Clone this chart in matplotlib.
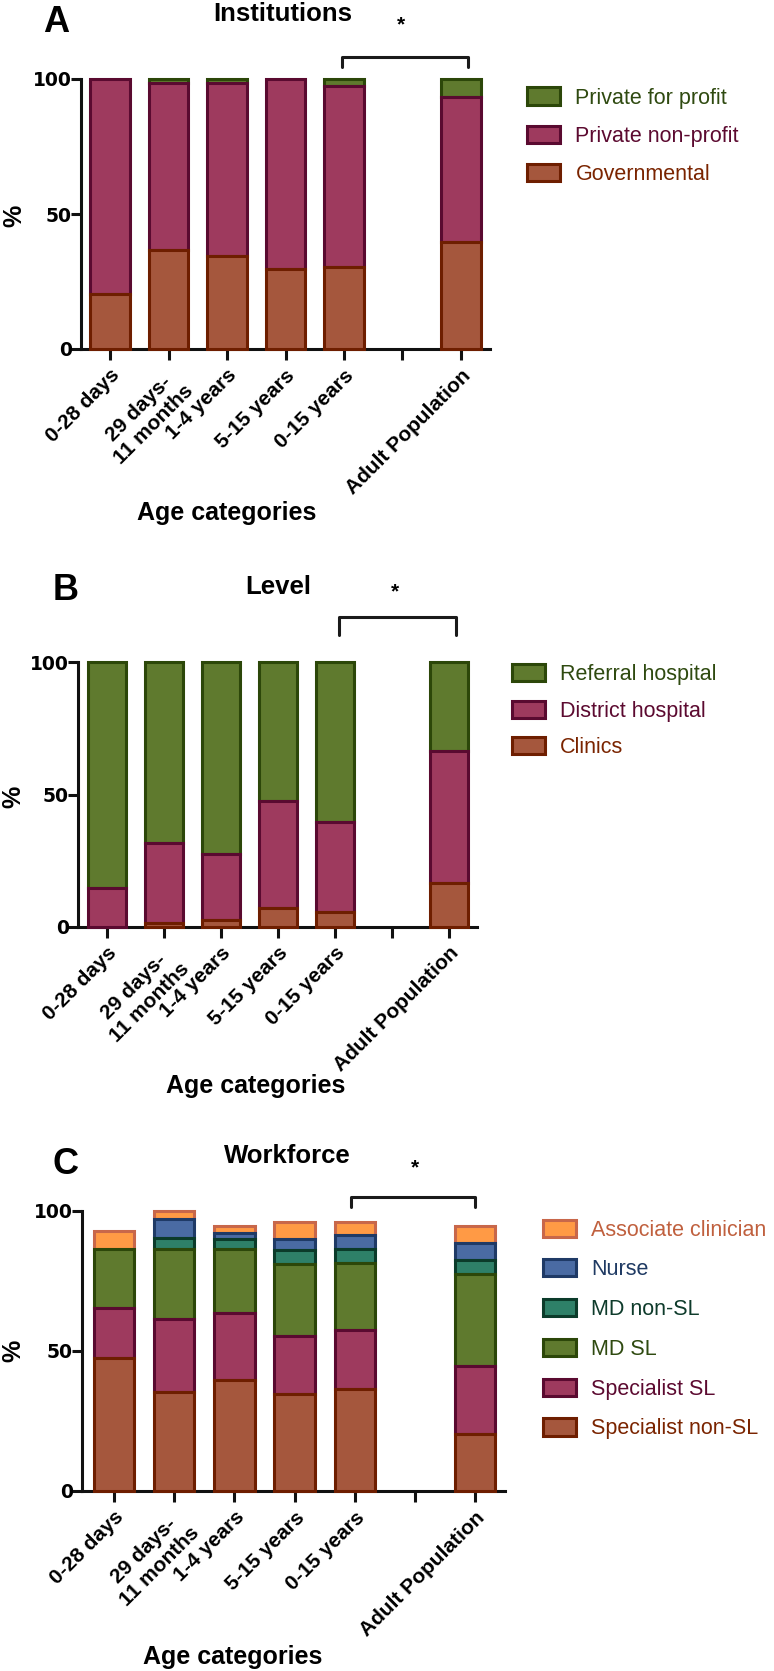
import numpy as np
import matplotlib
matplotlib.use("Agg")
import matplotlib.pyplot as plt

plt.rcParams['font.family'] = ['Liberation Sans', 'DejaVu Sans']

# ---------------- data ----------------
categories = ["0-28 days", "29 days-\n11 months", "1-4 years", "5-15 years",
              "0-15 years", "", "Adult Population"]
positions = [0, 1, 2, 3, 4, 6]   # slot 5 is an empty category

# Panel A: Institutions
inst_labels = ["Governmental", "Private non-profit", "Private for profit"]
governmental = [20.5, 36.5, 34.5, 29.5, 30.5, 39.5]
private_nonprofit = [79.5, 62.0, 64.0, 70.5, 67.0, 54.0]
private_profit = [0.0, 1.5, 1.5, 0.0, 2.5, 6.5]

# Panel B: Level
level_labels = ["Clinics", "District hospital", "Referral hospital"]
clinics = [0.0, 1.5, 2.5, 7.0, 5.5, 16.5]
district = [14.5, 30.0, 25.0, 40.5, 34.0, 50.0]
referral = [85.5, 68.5, 72.5, 52.5, 60.5, 33.5]

# Panel C: Workforce
work_labels = ["Specialist non-SL", "Specialist SL", "MD SL", "MD non-SL",
               "Nurse", "Associate clinician"]
spec_nonsl = [47.5, 35.5, 39.5, 34.5, 36.5, 20.5]
spec_sl = [18.0, 26.0, 24.0, 21.0, 21.0, 24.0]
md_sl = [21.0, 25.0, 23.0, 25.5, 24.0, 33.0]
md_nonsl = [0.0, 4.0, 3.5, 5.0, 5.0, 5.0]
nurse = [0.0, 6.5, 2.0, 4.0, 5.0, 6.0]
assoc = [6.5, 3.0, 2.5, 6.0, 4.5, 6.0]

# ---------------- styles ----------------
BROWN = ("#A5573D", "#6E1E00", "#7A2400")
MAROON = ("#9E3A5E", "#5A0A30", "#5C0A30")
GREEN = ("#5F7A2E", "#2C4709", "#2F4A10")
TEAL = ("#2E8068", "#0B3B2A", "#0E3B2B")
BLUE = ("#4A6BA3", "#1F3A66", "#1F3A63")
ORANGE = ("#FF9A45", "#C8674A", "#C0603E")

W, H = 774, 1671
fig = plt.figure(figsize=(W / 100, H / 100), dpi=100)


def fx(px):
    return px / W


def fy(py):
    return 1 - py / H


def make_axes(left, right, top, bottom):
    return fig.add_axes([fx(left), fy(bottom), fx(right) - fx(left), fy(top) - fy(bottom)])


def draw_panel(ax, series, labels, styles, xlim, legend_xy, labelspacing):
    n = len(series)
    bottoms = np.zeros(len(positions))
    handles = []
    for i, (vals, lab, st) in enumerate(zip(series, labels, styles)):
        vals = np.asarray(vals, dtype=float)
        mask = vals > 0
        pos = np.asarray(positions)[mask]
        bars = ax.bar(pos, vals[mask], bottom=bottoms[mask], width=0.67,
                      color=st[0], edgecolor=st[1], linewidth=2.2,
                      zorder=10 + n - i, clip_on=False, label=lab)
        handles.append(bars)
        bottoms = bottoms + vals
    ax.set_xlim(*xlim)
    ax.set_ylim(0, 100)
    ax.set_yticks([0, 50, 100])
    ax.set_yticklabels(["0", "50", "100"], fontsize=13.5, fontweight='bold',
                       family='DejaVu Sans')
    ax.set_xticks(range(len(categories)))
    ax.set_xticklabels(categories, rotation=45, ha='right', rotation_mode='anchor',
                       fontsize=15, fontweight='bold', multialignment='center')
    for sp in ['top', 'right']:
        ax.spines[sp].set_visible(False)
    for sp in ['left', 'bottom']:
        ax.spines[sp].set_linewidth(2.2)
        ax.spines[sp].set_color('#111111')
    ax.tick_params(axis='y', length=7, width=2.2, pad=-0.5, color='#111111')
    ax.tick_params(axis='x', length=8, width=2.2, pad=4, color='#111111')
    h = handles[::-1]
    l = labels[::-1]
    tc = [s[2] for s in styles][::-1]
    ax.legend(h, l, loc='upper left', bbox_to_anchor=(fx(legend_xy[0]), fy(legend_xy[1])),
              bbox_transform=fig.transFigure, frameon=False, borderpad=0,
              borderaxespad=0, handlelength=1.55, handleheight=0.85,
              handletextpad=0.7, labelspacing=labelspacing, fontsize=15.5,
              labelcolor=tc)


def bracket(ax, x0, x1, ylo, yhi, xs, ys):
    ax.plot([x0, x0, x1, x1], [ylo, yhi, yhi, ylo], color='#1a1a1a', lw=2.2,
            clip_on=False, solid_capstyle='round', zorder=20)
    ax.text(xs, ys, "*", ha='center', va='center', fontsize=15, fontweight='bold',
            clip_on=False)


# Panel A
axA = make_axes(81, 490, 79, 349)
draw_panel(axA, [governmental, private_nonprofit, private_profit], inst_labels,
           [BROWN, MAROON, GREEN], (-0.496, 6.496), (527, 87.5), 0.79)
bracket(axA, 3.97, 6.12, 104.5, 108, 4.98, 120)
fig.text(fx(283), fy(14), "Institutions", ha='center', va='center', fontsize=18.5,
         fontweight='bold')
fig.text(fx(56), fy(22), "A", ha='center', va='center', fontsize=26, fontweight='bold')
fig.text(fx(14), fy(216), "%", ha='center', va='center', fontsize=18,
         fontweight='bold', rotation=90)
fig.text(fx(227), fy(513), "Age categories", ha='center', va='center', fontsize=18,
         fontweight='bold')

# Panel B
axB = make_axes(77.7, 476.7, 662.3, 926.7)
draw_panel(axB, [clinics, district, referral], level_labels,
           [BROWN, MAROON, GREEN], (-0.514, 6.486), (511.7, 664), 0.72)
bracket(axB, 4.07, 6.12, 110.4, 117.3, 5.05, 126.5)
fig.text(fx(278), fy(587), "Level", ha='center', va='center', fontsize=18.5,
         fontweight='bold')
fig.text(fx(66), fy(590), "B", ha='center', va='center', fontsize=26, fontweight='bold')
fig.text(fx(13), fy(797), "%", ha='center', va='center', fontsize=18,
         fontweight='bold', rotation=90)
fig.text(fx(256), fy(1086), "Age categories", ha='center', va='center', fontsize=18,
         fontweight='bold')

# Panel C
axC = make_axes(81.7, 505, 1211, 1491)
draw_panel(axC, [spec_nonsl, spec_sl, md_sl, md_nonsl, nurse, assoc], work_labels,
           [BROWN, MAROON, GREEN, TEAL, BLUE, ORANGE], (-0.537, 6.495), (542.7, 1219.5), 0.87)
bracket(axC, 3.94, 6.0, 101.5, 105.1, 5.0, 115.5)
fig.text(fx(287), fy(1156), "Workforce", ha='center', va='center', fontsize=18.5,
         fontweight='bold')
fig.text(fx(66), fy(1165), "C", ha='center', va='center', fontsize=26, fontweight='bold')
fig.text(fx(13), fy(1351), "%", ha='center', va='center', fontsize=18,
         fontweight='bold', rotation=90)
fig.text(fx(233), fy(1657), "Age categories", ha='center', va='center', fontsize=18,
         fontweight='bold')

fig.savefig("out.png", dpi=100)
